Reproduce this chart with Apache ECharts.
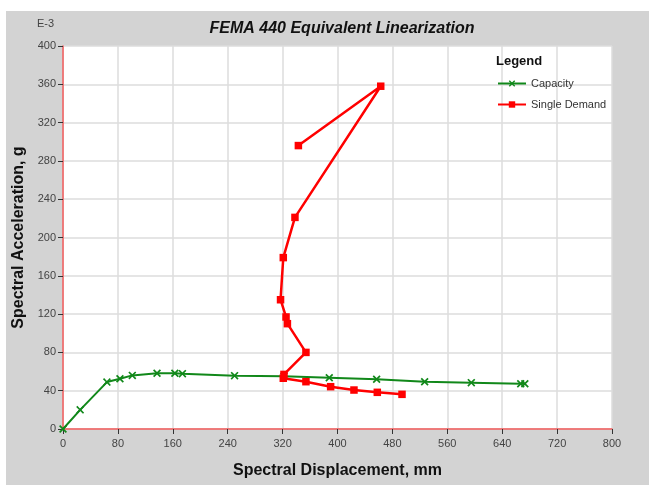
<!DOCTYPE html>
<html>
<head>
<meta charset="utf-8">
<script src="https://cdn.jsdelivr.net/npm/echarts@6/dist/echarts.min.js"></script>
<style>
html,body{margin:0;padding:0;background:#fff;}
#c{width:649px;height:485px;}
</style>
</head>
<body>
<div id="c"></div>
<script>
const xTicks = [0, 80, 160, 240, 320, 400, 480, 560, 640, 720, 800];
const yTicks = [0, 40, 80, 120, 160, 200, 240, 280, 320, 360, 400];

const capacityX = [0, 25, 64, 83, 101, 137, 163, 174, 250, 322, 388, 457, 527, 595, 667, 673];
const capacityY = [0, 20, 49, 52.5, 56, 58.2, 58.2, 57.8, 55.7, 55, 53.6, 51.9, 49.4, 48.4, 47.3, 47.3];

const demandX = [343, 463, 338, 321, 317, 325, 327, 354, 322, 321, 354, 390, 424, 458, 494];
const demandY = [296, 358, 221, 179, 135, 117, 110, 80, 57, 53, 49.4, 44.2, 40.7, 38.3, 36.2];

const zip = (xs, ys) => xs.map((x, i) => [x, ys[i]]);
const xMark = 'path://M0,1.5L1.5,0L5,3.5L8.5,0L10,1.5L6.5,5L10,8.5L8.5,10L5,6.5L1.5,10L0,8.5L3.5,5Z';

const chart = echarts.init(document.getElementById('c'), null, {renderer: 'canvas'});
const axisCommon = {
  min: 0, max: 800, interval: 80,
  axisLine: {show: true, lineStyle: {color: '#f25a5a', width: 1.5}},
  axisTick: {show: true, length: 5, lineStyle: {color: '#333'}},
  splitLine: {show: true, lineStyle: {color: '#dcdcdc', width: 1.5}},
  axisLabel: {color: '#444', fontSize: 11, fontFamily: 'Liberation Sans, Arial'},
  nameTextStyle: {color: '#111', fontSize: 16, fontWeight: 'bold', fontFamily: 'Liberation Sans, Arial'}
};
chart.setOption({
  animation: false,
  backgroundColor: '#fff',
  graphic: [
    {type: 'rect', z: -10, shape: {x: 6, y: 11, width: 643, height: 474}, style: {fill: '#d3d3d3'}},
    {type: 'text', left: 37, top: 18, style: {text: 'E-3', fill: '#444', font: '11px Liberation Sans, Arial'}},
    {type: 'text', left: 496, top: 55, z: 10, style: {text: 'Legend', fill: '#111', font: 'bold 13px Liberation Sans, Arial'}}
  ],
  title: {
    text: 'FEMA 440 Equivalent Linearization',
    left: 337, top: 16, textAlign: 'center',
    textStyle: {color: '#111', fontSize: 16, fontWeight: 'bold', fontStyle: 'italic', fontFamily: 'Liberation Sans, Arial'}
  },
  legend: {
    orient: 'vertical', left: 492, top: 73, itemGap: 10,
    itemWidth: 28, itemHeight: 8,
    textStyle: {color: '#333', fontSize: 11, fontFamily: 'Liberation Sans, Arial'},
    data: ['Capacity', 'Single Demand']
  },
  grid: {left: 63, right: 37, top: 46, bottom: 56, show: true, backgroundColor: '#fff', borderWidth: 0},
  xAxis: Object.assign({}, axisCommon, {
    type: 'value', name: 'Spectral Displacement, mm', nameLocation: 'middle', nameGap: 34,
    axisLabel: Object.assign({}, axisCommon.axisLabel, {margin: 9})
  }),
  yAxis: Object.assign({}, axisCommon, {
    type: 'value', min: 0, max: 400, interval: 40,
    name: 'Spectral Acceleration, g', nameLocation: 'middle', nameGap: 33,
    axisLabel: Object.assign({}, axisCommon.axisLabel, {margin: 7})
  }),
  series: [
    {
      name: 'Capacity', type: 'line', data: zip(capacityX, capacityY),
      symbol: xMark, symbolSize: 8, showAllSymbol: true,
      lineStyle: {color: '#11881a', width: 2}, itemStyle: {color: '#11881a'}, z: 2
    },
    {
      name: 'Single Demand', type: 'line', data: zip(demandX, demandY),
      symbol: 'rect', symbolSize: 7.5, showAllSymbol: true,
      lineStyle: {color: '#ff0000', width: 2.5}, itemStyle: {color: '#ff0000'}, z: 3
    }
  ]
});
</script>
</body>
</html>
